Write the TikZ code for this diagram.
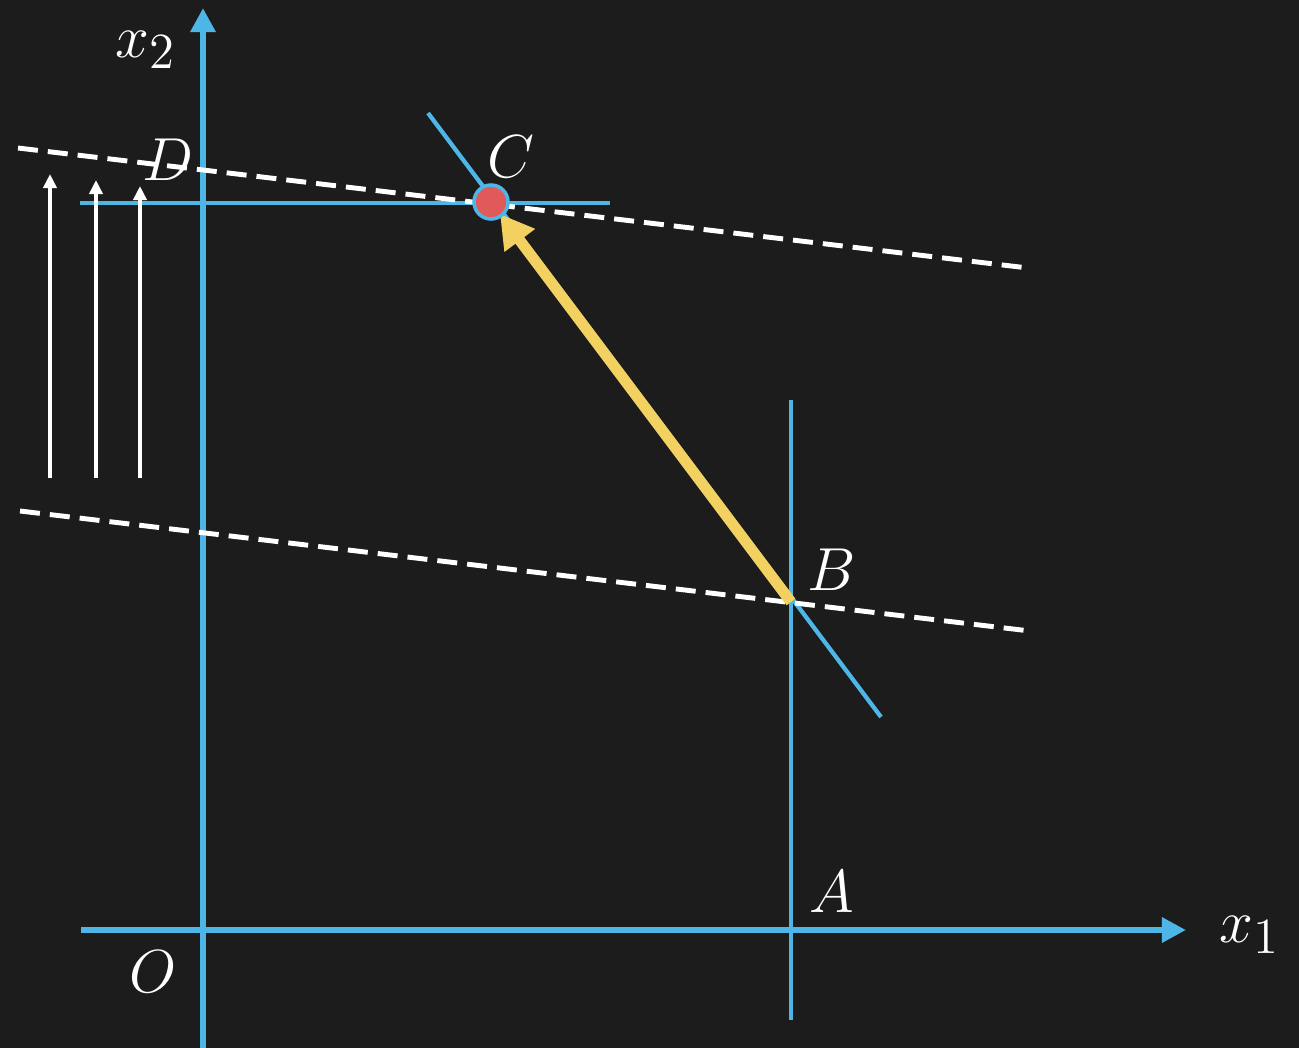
\documentclass[tikz,border=0pt]{standalone}
\usetikzlibrary{arrows.meta}
\definecolor{board}{HTML}{1C1C1C}
\definecolor{axblue}{HTML}{4DB6E6}
\definecolor{chalkyellow}{HTML}{F2D160}
\definecolor{ptred}{HTML}{E05A5A}
\tikzset{
  axis/.style={axblue, line width=1.7pt, -{Triangle[length=0.24cm,width=0.24cm]}},
  bluel/.style={axblue, line width=1.2pt},
  dashline/.style={white, line width=1.4pt, dash pattern=on 0.2cm off 0.1cm},
  upar/.style={white, line width=1.1pt, -{Triangle[length=0.14cm,width=0.13cm]}},
  lab/.style={white, font=\fontsize{19}{21}\selectfont},
}
\begin{document}
\begin{tikzpicture}[x=0.01cm,y=-0.01cm]
\fill[board] (0,0) rectangle (1299,1048);
\useasboundingbox (0,0) rectangle (1299,1048);
% coordinates
\coordinate (Cpt) at (491,202);
\coordinate (Bpt) at (791,602);
\coordinate (ys) at (203,1048);
\coordinate (ye) at (203,8);
\coordinate (xs) at (81,930);
\coordinate (xe) at (1186,930);
% axes
\draw[axis] (ys) -- (ye);
\draw[axis] (xs) -- (xe);
% blue constraint lines
\coordinate (h1) at (80,203);
\coordinate (h2) at (610,203);
\draw[bluel] (h1) -- (h2);
\coordinate (v1) at (791,400);
\coordinate (v2) at (791,1020);
\draw[bluel] (v1) -- (v2);
\coordinate (s1) at (428,113);
\coordinate (s2) at (881,717);
\draw[bluel] (s1) -- (s2);
% dashed objective lines
\coordinate (d1) at (18,148);
\coordinate (d2) at (1028,268);
\draw[dashline] (d1) -- (d2);
\coordinate (e1) at (20,511);
\coordinate (e2) at (1030,631);
\draw[dashline] (e1) -- (e2);
% white arrows
\coordinate (w1a) at (50,478); \coordinate (w1b) at (50,174);
\coordinate (w2a) at (96,478); \coordinate (w2b) at (96,180);
\coordinate (w3a) at (140,478); \coordinate (w3b) at (140,186);
\draw[upar] (w1a) -- (w1b);
\draw[upar] (w2a) -- (w2b);
\draw[upar] (w3a) -- (w3b);
% yellow arrow
\coordinate (ytip) at (500,214);
\draw[chalkyellow, line width=3.1pt, -{Triangle[length=0.33cm,width=0.36cm]}] (Bpt) -- (ytip);
% point C
\node[circle, fill=ptred, draw=axblue, line width=1pt, minimum size=0.34cm, inner sep=0pt] (C) at (Cpt) {};
% labels
\node[lab] (lx2) at (146,50) {$x_2$};
\node[lab] (lD) at (168,160) {$D$};
\node[lab] (lC) at (511,157) {$C$};
\node[lab] (lB) at (832,570) {$B$};
\node[lab] (lA) at (832,892) {$A$};
\node[lab] (lO) at (153,972) {$O$};
\node[lab] (lx1) at (1250,935) {$x_1$};
\end{tikzpicture}
\end{document}
